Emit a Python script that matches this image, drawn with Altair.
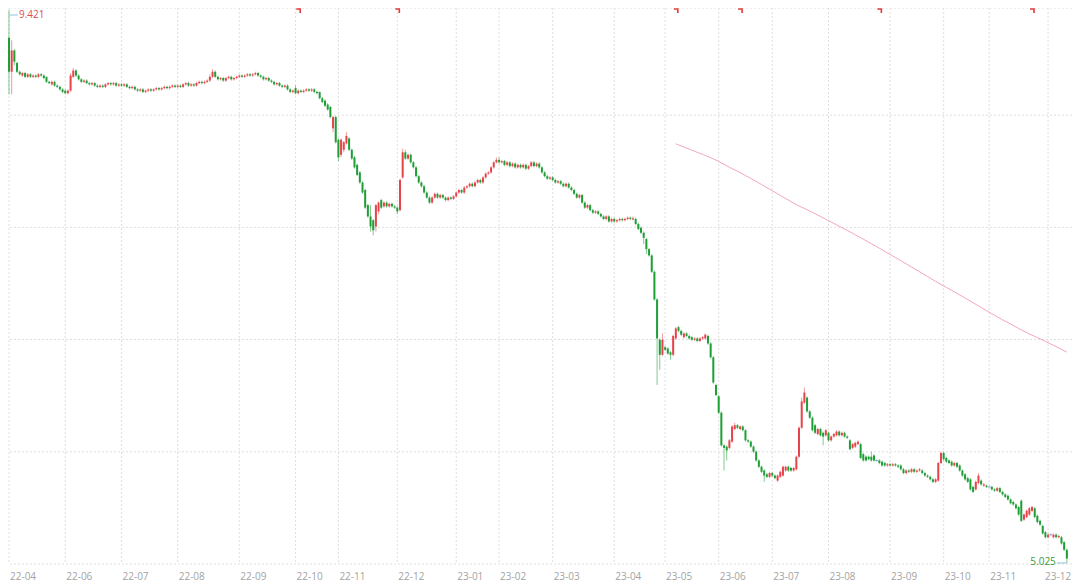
import altair as alt
import pandas as pd

# ---------------- data (daily candles) ----------------
opens = [
    9.20, 8.93, 9.10, 9.00, 8.93, 8.90, 8.92, 8.89, 8.91, 8.89,
    8.90, 8.89, 8.91, 8.90, 8.89, 8.85, 8.83, 8.85, 8.82, 8.81,
    8.79, 8.78, 8.76, 8.78, 8.89, 8.94, 8.90, 8.87, 8.85, 8.86,
    8.84, 8.83, 8.84, 8.82, 8.81, 8.82, 8.81, 8.83, 8.84, 8.83,
    8.84, 8.82, 8.83, 8.82, 8.83, 8.81, 8.80, 8.81, 8.79, 8.78,
    8.79, 8.77, 8.78, 8.79, 8.78, 8.79, 8.80, 8.79, 8.80, 8.81,
    8.80, 8.81, 8.82, 8.81, 8.82, 8.81, 8.83, 8.84, 8.82, 8.83,
    8.82, 8.84, 8.85, 8.84, 8.85, 8.86, 8.89, 8.93, 8.89, 8.87,
    8.88, 8.86, 8.88, 8.89, 8.87, 8.88, 8.89, 8.90, 8.89, 8.90,
    8.91, 8.90, 8.91, 8.92, 8.90, 8.89, 8.87, 8.88, 8.86, 8.85,
    8.83, 8.84, 8.82, 8.81, 8.82, 8.79, 8.77, 8.80, 8.76, 8.78,
    8.77, 8.78, 8.79, 8.78, 8.79, 8.77, 8.77, 8.72, 8.70, 8.67,
    8.65, 8.48, 8.57, 8.39, 8.27, 8.31, 8.36, 8.40, 8.31, 8.25,
    8.19, 8.13, 8.05, 7.99, 7.87, 7.78, 7.75, 7.70, 7.82, 7.91,
    7.86, 7.89, 7.86, 7.88, 7.86, 7.85, 7.83, 8.09, 8.29, 8.24,
    8.27, 8.21, 8.17, 8.10, 8.05, 8.02, 7.97, 7.93, 7.89, 7.93,
    7.96, 7.93, 7.95, 7.93, 7.91, 7.93, 7.92, 7.94, 7.97, 7.99,
    7.97, 8.01, 8.02, 8.04, 8.02, 8.05, 8.07, 8.05, 8.09, 8.12,
    8.13, 8.17, 8.21, 8.23, 8.21, 8.22, 8.19, 8.21, 8.18, 8.20,
    8.17, 8.19, 8.17, 8.19, 8.16, 8.18, 8.21, 8.18, 8.20, 8.17,
    8.13, 8.10, 8.08, 8.09, 8.07, 8.05, 8.06, 8.04, 8.02, 8.04,
    8.01, 7.99, 7.96, 7.93, 7.95, 7.89, 7.85, 7.87, 7.83, 7.81,
    7.82, 7.80, 7.78, 7.76, 7.78, 7.74, 7.76, 7.74, 7.75, 7.76,
    7.75, 7.76, 7.77, 7.755, 7.76, 7.72, 7.69, 7.65, 7.60, 7.52,
    7.47, 7.34, 7.12, 6.80, 6.68, 6.74, 6.73, 6.70, 6.68, 6.81,
    6.90, 6.87, 6.82, 6.85, 6.83, 6.82, 6.80, 6.81, 6.79, 6.81,
    6.81, 6.83, 6.77, 6.66, 6.44, 6.35, 6.22, 5.96, 5.95, 5.94,
    5.99, 6.09, 6.12, 6.09, 6.11, 6.08, 6.00, 5.99, 5.95, 5.91,
    5.84, 5.79, 5.76, 5.73, 5.71, 5.74, 5.72, 5.68, 5.71, 5.72,
    5.76, 5.79, 5.78, 5.76, 5.77, 5.87, 6.10, 6.30, 6.34, 6.23,
    6.18, 6.12, 6.05, 6.09, 6.06, 6.04, 6.06, 6.00, 6.03, 6.04,
    6.07, 6.04, 6.06, 6.03, 6.00, 5.94, 5.95, 5.97, 5.97, 5.89,
    5.87, 5.87, 5.87, 5.88, 5.84, 5.84, 5.83, 5.82, 5.80, 5.81,
    5.80, 5.81, 5.80, 5.80, 5.77, 5.74, 5.76, 5.75, 5.77, 5.75,
    5.76, 5.76, 5.74, 5.72, 5.71, 5.69, 5.67, 5.68, 5.82, 5.90,
    5.86, 5.84, 5.83, 5.80, 5.82, 5.80, 5.76, 5.73, 5.70, 5.69,
    5.63, 5.61, 5.66, 5.68, 5.64, 5.64, 5.63, 5.63, 5.61, 5.60,
    5.62, 5.59, 5.57, 5.56, 5.53, 5.51, 5.49, 5.47, 5.52, 5.37,
    5.39, 5.41, 5.44, 5.46, 5.40, 5.36, 5.32, 5.27, 5.23, 5.25,
    5.23, 5.25, 5.23, 5.23, 5.19, 5.13,
]

closes = [
    8.93, 9.10, 9.01, 8.93, 8.91, 8.92, 8.89, 8.91, 8.89, 8.90,
    8.89, 8.91, 8.90, 8.88, 8.85, 8.84, 8.85, 8.82, 8.81, 8.79,
    8.77, 8.76, 8.78, 8.90, 8.94, 8.90, 8.87, 8.85, 8.86, 8.84,
    8.83, 8.84, 8.82, 8.81, 8.82, 8.81, 8.83, 8.84, 8.83, 8.84,
    8.82, 8.83, 8.82, 8.83, 8.81, 8.80, 8.81, 8.79, 8.78, 8.79,
    8.77, 8.78, 8.79, 8.78, 8.79, 8.80, 8.79, 8.80, 8.81, 8.80,
    8.81, 8.82, 8.81, 8.82, 8.81, 8.83, 8.84, 8.82, 8.83, 8.82,
    8.84, 8.85, 8.84, 8.85, 8.86, 8.89, 8.93, 8.89, 8.87, 8.88,
    8.86, 8.88, 8.89, 8.87, 8.88, 8.89, 8.90, 8.89, 8.90, 8.91,
    8.90, 8.91, 8.92, 8.90, 8.89, 8.87, 8.88, 8.86, 8.85, 8.83,
    8.84, 8.82, 8.81, 8.82, 8.79, 8.77, 8.78, 8.76, 8.78, 8.77,
    8.78, 8.79, 8.78, 8.79, 8.77, 8.76, 8.72, 8.69, 8.66, 8.63,
    8.57, 8.57, 8.37, 8.25, 8.39, 8.37, 8.42, 8.31, 8.24, 8.17,
    8.11, 8.05, 7.97, 7.85, 7.78, 7.70, 7.67, 7.87, 7.89, 7.85,
    7.89, 7.86, 7.88, 7.86, 7.85, 7.82, 8.07, 8.29, 8.24, 8.27,
    8.21, 8.17, 8.10, 8.05, 8.02, 7.97, 7.93, 7.89, 7.93, 7.96,
    7.93, 7.95, 7.93, 7.91, 7.93, 7.92, 7.94, 7.97, 7.99, 7.97,
    8.01, 8.02, 8.04, 8.02, 8.05, 8.07, 8.05, 8.09, 8.12, 8.13,
    8.17, 8.21, 8.23, 8.21, 8.22, 8.19, 8.21, 8.18, 8.20, 8.17,
    8.19, 8.17, 8.19, 8.16, 8.18, 8.21, 8.18, 8.20, 8.17, 8.13,
    8.10, 8.08, 8.09, 8.07, 8.05, 8.06, 8.04, 8.02, 8.04, 8.01,
    7.99, 7.96, 7.93, 7.95, 7.89, 7.85, 7.87, 7.83, 7.81, 7.82,
    7.80, 7.78, 7.76, 7.78, 7.74, 7.76, 7.74, 7.75, 7.76, 7.75,
    7.76, 7.77, 7.76, 7.765, 7.72, 7.68, 7.65, 7.61, 7.52, 7.47,
    7.34, 7.12, 6.81, 6.68, 6.80, 6.72, 6.69, 6.68, 6.83, 6.89,
    6.87, 6.84, 6.85, 6.83, 6.81, 6.80, 6.81, 6.79, 6.81, 6.82,
    6.84, 6.77, 6.66, 6.46, 6.36, 6.22, 5.96, 5.94, 5.92, 6.00,
    6.11, 6.12, 6.10, 6.11, 6.08, 6.00, 5.99, 5.95, 5.91, 5.84,
    5.79, 5.75, 5.72, 5.71, 5.74, 5.72, 5.70, 5.72, 5.75, 5.79,
    5.79, 5.76, 5.76, 5.78, 5.87, 6.10, 6.31, 6.38, 6.23, 6.18,
    6.08, 6.06, 6.09, 6.04, 6.03, 6.08, 6.00, 6.03, 6.05, 6.07,
    6.04, 6.06, 6.03, 6.02, 5.93, 5.97, 5.98, 5.99, 5.86, 5.84,
    5.84, 5.85, 5.84, 5.84, 5.84, 5.82, 5.80, 5.80, 5.81, 5.80,
    5.81, 5.80, 5.79, 5.77, 5.74, 5.76, 5.75, 5.77, 5.75, 5.76,
    5.77, 5.74, 5.72, 5.71, 5.69, 5.67, 5.69, 5.82, 5.90, 5.85,
    5.83, 5.82, 5.80, 5.82, 5.79, 5.76, 5.72, 5.69, 5.67, 5.61,
    5.59, 5.67, 5.72, 5.65, 5.65, 5.63, 5.63, 5.61, 5.60, 5.62,
    5.59, 5.57, 5.55, 5.53, 5.50, 5.49, 5.46, 5.41, 5.36, 5.41,
    5.44, 5.46, 5.47, 5.39, 5.35, 5.33, 5.26, 5.23, 5.25, 5.25,
    5.25, 5.23, 5.24, 5.18, 5.13, 5.06,
]

highs = [
    9.421, 9.18, 9.11, 9.01, 8.94, 8.93, 8.93, 8.92, 8.92, 8.91,
    8.91, 8.92, 8.92, 8.91, 8.89, 8.86, 8.86, 8.86, 8.83, 8.82,
    8.80, 8.79, 8.79, 8.92, 8.96, 8.95, 8.91, 8.88, 8.87, 8.87,
    8.85, 8.85, 8.85, 8.83, 8.83, 8.83, 8.84, 8.85, 8.85, 8.85,
    8.85, 8.84, 8.84, 8.84, 8.84, 8.82, 8.82, 8.82, 8.80, 8.80,
    8.80, 8.79, 8.80, 8.80, 8.80, 8.81, 8.81, 8.81, 8.82, 8.82,
    8.82, 8.83, 8.83, 8.83, 8.83, 8.84, 8.85, 8.85, 8.84, 8.84,
    8.85, 8.86, 8.86, 8.86, 8.87, 8.91, 8.95, 8.94, 8.90, 8.89,
    8.89, 8.89, 8.90, 8.90, 8.89, 8.90, 8.91, 8.91, 8.91, 8.92,
    8.92, 8.92, 8.93, 8.93, 8.91, 8.90, 8.89, 8.89, 8.87, 8.86,
    8.85, 8.85, 8.83, 8.83, 8.83, 8.80, 8.79, 8.82, 8.79, 8.79,
    8.79, 8.80, 8.80, 8.80, 8.80, 8.78, 8.77, 8.73, 8.71, 8.68,
    8.66, 8.58, 8.58, 8.40, 8.40, 8.38, 8.45, 8.41, 8.32, 8.26,
    8.20, 8.14, 8.06, 8.00, 7.88, 7.87, 7.76, 7.88, 7.90, 7.92,
    7.90, 7.90, 7.89, 7.89, 7.87, 7.86, 8.08, 8.32, 8.31, 8.28,
    8.28, 8.22, 8.18, 8.11, 8.06, 8.03, 7.98, 7.94, 7.94, 7.97,
    7.97, 7.96, 7.96, 7.94, 7.94, 7.94, 7.95, 7.98, 8.00, 8.00,
    8.02, 8.03, 8.05, 8.05, 8.06, 8.08, 8.08, 8.10, 8.13, 8.14,
    8.18, 8.22, 8.25, 8.25, 8.23, 8.23, 8.22, 8.22, 8.21, 8.21,
    8.20, 8.20, 8.20, 8.20, 8.19, 8.22, 8.22, 8.21, 8.21, 8.18,
    8.14, 8.11, 8.10, 8.10, 8.08, 8.07, 8.07, 8.05, 8.05, 8.05,
    8.02, 8.00, 7.97, 7.96, 7.96, 7.90, 7.88, 7.88, 7.84, 7.83,
    7.83, 7.81, 7.79, 7.79, 7.79, 7.77, 7.77, 7.76, 7.77, 7.77,
    7.77, 7.78, 7.78, 7.78, 7.77, 7.73, 7.70, 7.66, 7.61, 7.53,
    7.48, 7.35, 7.13, 6.81, 6.85, 6.75, 6.74, 6.71, 6.84, 6.90,
    6.91, 6.88, 6.86, 6.86, 6.84, 6.83, 6.82, 6.82, 6.82, 6.83,
    6.85, 6.84, 6.78, 6.67, 6.45, 6.36, 6.23, 5.97, 5.96, 6.01,
    6.12, 6.14, 6.13, 6.12, 6.12, 6.09, 6.01, 6.00, 5.96, 5.92,
    5.85, 5.80, 5.77, 5.74, 5.75, 5.75, 5.73, 5.73, 5.76, 5.80,
    5.80, 5.80, 5.79, 5.79, 5.88, 6.11, 6.34, 6.42, 6.35, 6.24,
    6.19, 6.13, 6.10, 6.10, 6.07, 6.09, 6.07, 6.04, 6.06, 6.08,
    6.08, 6.07, 6.07, 6.04, 6.01, 5.98, 5.99, 6.00, 5.98, 5.90,
    5.88, 5.88, 5.91, 5.89, 5.85, 5.85, 5.84, 5.83, 5.82, 5.82,
    5.82, 5.82, 5.81, 5.81, 5.78, 5.77, 5.77, 5.78, 5.78, 5.77,
    5.78, 5.77, 5.75, 5.73, 5.72, 5.70, 5.70, 5.83, 5.91, 5.91,
    5.87, 5.85, 5.84, 5.83, 5.83, 5.81, 5.77, 5.74, 5.71, 5.70,
    5.64, 5.68, 5.74, 5.69, 5.66, 5.65, 5.64, 5.64, 5.62, 5.63,
    5.63, 5.60, 5.58, 5.57, 5.54, 5.52, 5.50, 5.48, 5.53, 5.42,
    5.45, 5.47, 5.48, 5.47, 5.41, 5.37, 5.33, 5.28, 5.26, 5.26,
    5.26, 5.26, 5.25, 5.24, 5.20, 5.14,
]

lows = [
    8.75, 8.75, 8.98, 8.92, 8.90, 8.89, 8.88, 8.88, 8.88, 8.88,
    8.88, 8.88, 8.89, 8.87, 8.84, 8.83, 8.82, 8.81, 8.80, 8.78,
    8.76, 8.75, 8.75, 8.77, 8.88, 8.89, 8.86, 8.84, 8.84, 8.83,
    8.82, 8.82, 8.81, 8.80, 8.80, 8.80, 8.80, 8.82, 8.82, 8.82,
    8.81, 8.81, 8.81, 8.81, 8.80, 8.79, 8.79, 8.78, 8.77, 8.77,
    8.76, 8.76, 8.77, 8.77, 8.77, 8.78, 8.78, 8.78, 8.79, 8.79,
    8.79, 8.80, 8.80, 8.80, 8.80, 8.80, 8.82, 8.81, 8.81, 8.81,
    8.81, 8.83, 8.83, 8.83, 8.84, 8.85, 8.88, 8.88, 8.86, 8.86,
    8.85, 8.85, 8.87, 8.86, 8.86, 8.87, 8.88, 8.88, 8.88, 8.89,
    8.89, 8.89, 8.90, 8.89, 8.88, 8.86, 8.86, 8.85, 8.84, 8.82,
    8.82, 8.81, 8.80, 8.80, 8.78, 8.76, 8.76, 8.75, 8.75, 8.76,
    8.76, 8.77, 8.77, 8.77, 8.76, 8.75, 8.71, 8.68, 8.65, 8.62,
    8.56, 8.45, 8.36, 8.22, 8.25, 8.29, 8.35, 8.30, 8.23, 8.16,
    8.10, 8.04, 7.96, 7.84, 7.77, 7.66, 7.63, 7.66, 7.80, 7.84,
    7.85, 7.85, 7.85, 7.85, 7.84, 7.80, 7.82, 8.08, 8.23, 8.23,
    8.20, 8.16, 8.09, 8.04, 8.01, 7.96, 7.92, 7.88, 7.88, 7.92,
    7.92, 7.92, 7.92, 7.90, 7.90, 7.91, 7.91, 7.93, 7.96, 7.96,
    7.96, 8.00, 8.01, 8.01, 8.01, 8.04, 8.04, 8.04, 8.08, 8.11,
    8.12, 8.16, 8.20, 8.20, 8.20, 8.18, 8.18, 8.17, 8.17, 8.16,
    8.16, 8.16, 8.16, 8.15, 8.15, 8.17, 8.17, 8.17, 8.16, 8.12,
    8.09, 8.07, 8.07, 8.06, 8.04, 8.04, 8.03, 8.01, 8.01, 8.00,
    7.98, 7.95, 7.92, 7.92, 7.88, 7.84, 7.84, 7.82, 7.80, 7.80,
    7.79, 7.77, 7.75, 7.75, 7.73, 7.73, 7.73, 7.73, 7.74, 7.74,
    7.74, 7.75, 7.75, 7.75, 7.71, 7.67, 7.64, 7.56, 7.48, 7.46,
    7.33, 7.11, 6.44, 6.56, 6.67, 6.71, 6.68, 6.64, 6.67, 6.80,
    6.86, 6.83, 6.81, 6.82, 6.80, 6.79, 6.79, 6.78, 6.78, 6.80,
    6.80, 6.76, 6.65, 6.45, 6.35, 6.21, 5.95, 5.76, 5.84, 5.93,
    5.98, 6.08, 6.09, 6.08, 6.07, 5.99, 5.98, 5.94, 5.90, 5.83,
    5.78, 5.74, 5.67, 5.70, 5.70, 5.71, 5.69, 5.67, 5.70, 5.71,
    5.75, 5.75, 5.75, 5.75, 5.76, 5.86, 6.09, 6.29, 6.22, 6.17,
    6.07, 6.05, 6.04, 6.03, 5.96, 6.03, 5.99, 5.99, 6.02, 6.03,
    6.03, 6.03, 6.02, 6.01, 5.92, 5.93, 5.94, 5.96, 5.85, 5.83,
    5.83, 5.84, 5.83, 5.83, 5.83, 5.81, 5.79, 5.79, 5.79, 5.79,
    5.79, 5.79, 5.78, 5.76, 5.73, 5.73, 5.74, 5.74, 5.74, 5.74,
    5.75, 5.73, 5.71, 5.70, 5.68, 5.66, 5.66, 5.67, 5.81, 5.84,
    5.82, 5.81, 5.79, 5.79, 5.78, 5.75, 5.71, 5.68, 5.66, 5.60,
    5.58, 5.60, 5.65, 5.64, 5.63, 5.62, 5.62, 5.60, 5.59, 5.59,
    5.58, 5.56, 5.54, 5.52, 5.49, 5.48, 5.45, 5.40, 5.35, 5.36,
    5.38, 5.40, 5.43, 5.38, 5.34, 5.32, 5.25, 5.22, 5.22, 5.24,
    5.22, 5.22, 5.22, 5.17, 5.12, 5.025,
]

# exchange holidays (weekdays without trading) inside the period
holidays = [
    "2022-05-02", "2022-05-03", "2022-05-04", "2022-06-03", "2022-09-12",
    "2022-10-03", "2022-10-04", "2022-10-05", "2022-10-06", "2022-10-07",
    "2023-01-02", "2023-01-23", "2023-01-24", "2023-01-25", "2023-01-26",
    "2023-01-27", "2023-04-05", "2023-05-01", "2023-05-02", "2023-05-03",
    "2023-06-22", "2023-06-23", "2023-09-29", "2023-10-02", "2023-10-03",
    "2023-10-04", "2023-10-05", "2023-10-06",
]

# small red event flags along the top edge (trading-day index)
marker_idx = [108, 145, 249, 273, 325, 382]

n = len(closes)
assert len(opens) == n and len(highs) == n and len(lows) == n, (len(opens), n, len(highs), len(lows))

days = [d for d in pd.bdate_range("2022-04-28", "2023-12-31")
        if d.strftime("%Y-%m-%d") not in holidays][:n]

RED = "#e8434b"
GREEN = "#1f9e36"
BLUE = "#7fa9d0"

df = pd.DataFrame({
    "i": list(range(n)),
    "date": [d.strftime("%Y-%m-%d") for d in days],
    "open": opens, "close": closes, "high": highs, "low": lows,
})
df["dir"] = ["up" if c > o else ("down" if c < o else "flat") for o, c in zip(opens, closes)]

months = []
for i, d in enumerate(days):
    if i == 0 or d.month != days[i - 1].month:
        if i == 0 or i >= 5:
            months.append({"i": i, "label": d.strftime("%y-%m")})
mdf = pd.DataFrame(months)
last_month = mdf.iloc[[-1]]
mdf_main = mdf.iloc[:-1]

W, H = 1064, 556
Y_LO, Y_HI = 5.017, 9.437
X_LO, X_HI = -0.373, 396.93

xs = alt.Scale(domain=[X_LO, X_HI], nice=False, zero=False)
ys = alt.Scale(domain=[Y_LO, Y_HI], nice=False, zero=False)
X = alt.X("i:Q", scale=xs, axis=None)

hgrid = pd.DataFrame({"v": [Y_LO + k * 0.892 for k in range(5)] + [Y_HI]})

color = alt.Color("dir:N", scale=alt.Scale(domain=["up", "down", "flat"],
                                          range=[RED, GREEN, BLUE]), legend=None)

GRID = "#dedede"
grid_h = alt.Chart(hgrid).mark_rule(color=GRID, strokeWidth=1, strokeDash=[2, 2]).encode(
    y=alt.Y("v:Q", scale=ys, axis=None))

grid_v = alt.Chart(mdf).mark_rule(color=GRID, strokeWidth=1, strokeDash=[2, 2]).encode(x=X)

label_style = dict(baseline="middle", fontSize=10, font="Open Sans", color="#a3a3a3")
month_text = alt.Chart(mdf_main).mark_text(align="left", dx=1, **label_style).encode(
    x=X, y=alt.value(H + 13), text="label:N")
month_text_last = alt.Chart(last_month).mark_text(align="left", dx=-3, **label_style).encode(
    x=X, y=alt.value(H + 13), text="label:N")

wicks = alt.Chart(df).mark_rule(strokeWidth=1, opacity=0.55).encode(
    x=X, y=alt.Y("low:Q", scale=ys, axis=None), y2="high:Q", color=color)

bodies = alt.Chart(df).mark_rule(strokeWidth=2).encode(
    x=X, y=alt.Y("open:Q", scale=ys, axis=None), y2="close:Q", color=color)

flats = alt.Chart(df).transform_filter("datum.dir == 'flat'").mark_tick(
    orient="horizontal", size=3, thickness=1, color=BLUE, opacity=1).encode(
    x=X, y=alt.Y("close:Q", scale=ys, axis=None))

ma = alt.Chart(df).transform_window(
    ma="mean(close)", cnt="count()", frame=[-249, 0], sort=[alt.SortField("i")]
).transform_filter("datum.cnt >= 250").mark_line(color="#f2a5b6", strokeWidth=1).encode(
    x=X, y=alt.Y("ma:Q", scale=ys, axis=None))

flags = alt.Chart(pd.DataFrame({"i": marker_idx})).mark_point(
    shape="M-1,-1H1V1", filled=False, size=16, strokeWidth=1.6, color="#e23b3b", opacity=1
).encode(x=X, y=alt.value(3))

i_hi = highs.index(max(highs))
i_lo = lows.index(min(lows))
hi_df = pd.DataFrame({"i": [i_hi], "p": [highs[i_hi]], "t": [f"{highs[i_hi]:.3f}"]})
lo_df = pd.DataFrame({"i": [i_lo], "p": [lows[i_lo]], "t": [f"{lows[i_lo]:.3f}"]})

hi_lead = alt.Chart(hi_df).mark_rule(color="#8cc3dc", strokeWidth=1, x2Offset=9, yOffset=5).encode(
    x=X, x2=alt.X2("i:Q"), y=alt.Y("p:Q", scale=ys, axis=None))
hi_text = alt.Chart(hi_df).mark_text(align="left", baseline="middle", dx=10, dy=5, fontSize=10,
                                     font="Open Sans", color="#e04b4b").encode(
    x=X, y=alt.Y("p:Q", scale=ys, axis=None), text="t:N")

lo_lead = alt.Chart(lo_df).mark_rule(color="#8cc3dc", strokeWidth=1, xOffset=-10).encode(
    x=X, x2=alt.X2("i:Q"), y=alt.Y("p:Q", scale=ys, axis=None))
lo_text = alt.Chart(lo_df).mark_text(align="right", baseline="middle", dx=-11, dy=-1, fontSize=10,
                                     font="Open Sans", color="#3a9a3a").encode(
    x=X, y=alt.Y("p:Q", scale=ys, axis=None), text="t:N")

chart = alt.layer(
    grid_h, grid_v, month_text, month_text_last, ma, wicks, bodies, flats, flags,
    hi_lead, hi_text, lo_lead, lo_text,
).properties(
    width=W, height=H,
    autosize=alt.AutoSizeParams(type="none"),
    padding={"left": 0, "top": 0, "right": 0, "bottom": 22},
).configure(background="#ffffff").configure_view(stroke=None)

chart.save("out.html", embed_options={"renderer": "svg", "actions": False})
